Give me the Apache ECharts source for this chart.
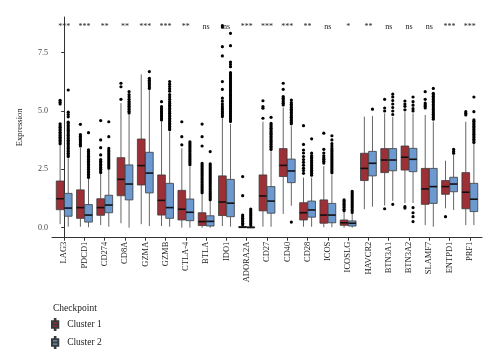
<!DOCTYPE html>
<html><head><meta charset="utf-8">
<script src="https://cdn.jsdelivr.net/npm/echarts@6/dist/echarts.min.js"></script>
<style>html,body{margin:0;padding:0;background:#fff}#c{width:500px;height:364px}</style>
</head><body><div id="c"></div>
<script>
const genes = ['LAG3','PDCD1','CD274','CD8A','GZMA','GZMB','CTLA-4','BTLA','IDO1','ADORA2A','CD27','CD40','CD28','ICOS','ICOSLG','HAVCR2','BTN3A1','BTN3A2','SLAMF7','ENTPD1','PRF1'];
const sig = ['***','***','**','**','***','***','**','ns','ns','***','***','***','**','ns','*','**','ns','ns','ns','***','***'];
const yTicks = [0, 2.5, 5, 7.5];
// [whisker low, Q1, median, Q3, whisker high]
const cluster1Stats = [
  [0.15,0.77,1.24,2.0,3.55],[0.04,0.40,0.86,1.62,3.42],[0.11,0.53,0.86,1.24,2.3],[0.19,1.37,2.07,3.0,5.34],
  [0.15,1.83,2.66,3.8,6.57],[0.07,0.54,1.17,2.26,4.55],[0.0,0.33,0.79,1.6,3.4],[0.0,0.09,0.26,0.64,1.45],
  [0.07,0.52,1.1,2.22,4.69],[0.0,0.0,0.02,0.05,0.1],[0.04,0.72,1.36,2.26,4.54],[0.59,2.19,2.67,3.39,5.15],
  [0.04,0.33,0.64,1.07,2.15],[0.02,0.19,0.54,1.19,2.64],[0.0,0.1,0.21,0.33,0.65],[0.79,2.02,2.54,3.19,4.76],
  [0.95,2.36,2.9,3.39,4.9],[1.05,2.47,3.02,3.5,4.95],[0.11,1.0,1.66,2.54,4.83],[0.83,1.43,1.76,2.02,2.87],
  [0.11,0.81,1.52,2.36,4.54]
];
const cluster2Stats = [
  [0.04,0.49,0.84,1.47,2.98],[0.02,0.24,0.54,0.99,2.1],[0.04,0.64,0.97,1.39,2.5],[0.0,1.19,1.87,2.69,4.85],
  [0.07,1.49,2.34,3.23,5.9],[0.04,0.40,0.86,1.9,4.11],[0.0,0.3,0.66,1.23,2.62],[0.0,0.07,0.27,0.51,1.15],
  [0.04,0.47,1.05,2.07,4.45],[0.0,0.0,0.01,0.03,0.07],[0.04,0.62,1.14,1.76,3.28],[0.94,1.93,2.43,2.94,4.35],
  [0.04,0.45,0.76,1.14,2.15],[0.02,0.21,0.54,1.04,2.25],[0.0,0.07,0.19,0.29,0.6],[0.9,2.22,2.76,3.27,4.79],
  [1.15,2.44,2.9,3.39,4.75],[1.06,2.4,2.93,3.4,4.9],[0.04,1.04,1.76,2.54,4.55],[0.76,1.54,1.87,2.16,3.12],
  [0.11,0.69,1.22,1.9,3.6]
];
const cluster1Outliers = [
  [3.6,3.67,3.74,3.81,3.88,3.95,4.02,4.09,4.16,4.23,4.3,4.37,4.45,5.3,5.38,5.46],
  [3.5,3.57,3.64,3.71,3.78,3.85,3.92,3.99,4.43],
  [2.36,2.43,2.5,2.57,2.64,2.71,2.78,2.85,2.92,3.12,3.43,3.76,4.59],
  [5.5,6.04,6.19],
  [],
  [4.62,4.69,4.76,4.83,4.9,4.97,5.04,5.11,5.19,5.4],
  [3.55,3.9,4.54],
  [1.5,1.57,1.64,1.71,1.78,1.85,1.92,1.99,2.06,2.13,2.2,2.27,2.34,2.41,2.48,2.55,2.62,2.69,2.76,3.5,3.9,4.44],
  [4.76,4.83,4.9,4.97,5.05,5.12,5.2,5.3,5.42,5.55,5.93,6.26,7.36,7.76,8.59,8.66],
  [0.12,0.19,0.26,0.33,0.4,0.47,0.54,1.37,2.19],
  [4.69,5.12,5.19,5.44],
  [5.26,5.33,5.4,5.47,5.55,5.62,5.93,6.19],
  [2.33,2.45,2.55,2.68,2.8,2.92,3.05,3.2,3.33,3.57,4.37],
  [2.77,2.85,2.93,3.0,3.08,3.2,3.36,4.05],
  [0.72,0.79,0.86,0.93,1.0,1.07,1.14,1.19],
  [],
  [0.81,5.0,5.13,5.5],
  [0.84,0.9,5.05,5.2,5.3,5.43],
  [5.13,5.2,5.27,5.34,5.5,5.83],
  [0.47],
  [4.83,4.9,4.97]
];
const cluster2Outliers = [
  [3.05,3.12,3.19,3.26,3.33,3.4,3.47,3.54,3.61,3.68,3.75,3.82,3.89,3.96,4.03,4.1,4.17,4.24,4.31,4.38,4.45,4.52,4.75,4.85,4.95,5.9],
  [2.15,2.22,2.29,2.36,2.43,2.5,2.57,2.64,2.71,2.78,2.85,2.92,2.99,3.06,3.13,3.2,3.27,3.34,4.07],
  [2.55,2.62,2.69,2.76,2.83,2.9,2.97,3.04,3.11,3.18,3.25,3.32,3.4,3.9,4.54],
  [4.92,4.99,5.06,5.13,5.2,5.27,5.34,5.41,5.5,5.6,5.7,5.83],
  [5.97,6.04,6.11,6.18,6.25,6.32,6.4,6.69],
  [4.2,4.27,4.34,4.41,4.48,4.55,4.62,4.69,4.76,4.83,4.9,4.97,5.04,5.11,5.18,5.25,5.32,5.4,5.5,5.6,5.7,5.85,5.95,6.05,6.15,6.26],
  [2.7,2.77,2.84,2.91,2.98,3.05,3.12,3.19,3.26,3.33,3.4,3.47,3.54,3.61,3.68],
  [1.2,1.27,1.34,1.41,1.48,1.55,1.62,1.69,1.76,1.83,1.9,1.97,2.04,2.11,2.18,2.25,2.32,2.39,2.46,2.53,2.6,2.67,2.74,3.26],
  [4.55,4.62,4.69,4.76,4.83,4.9,4.97,5.04,5.11,5.18,5.25,5.32,5.39,5.46,5.53,5.6,5.67,5.74,5.81,5.88,5.95,6.02,6.09,6.16,6.23,6.3,6.37,6.44,6.51,6.58,6.65,6.9,7.0,7.1,7.8,8.33],
  [0.1,0.17,0.24,0.31,0.38,0.45,0.52,0.59,0.66,0.73,0.8],
  [3.35,3.42,3.49,3.56,3.63,3.7,3.77,3.84,3.91,3.98,4.05,4.12,4.19,4.26,4.33,4.4,4.47,4.73],
  [0.24,4.45,4.52,4.59,4.66,4.73,4.8,4.87,4.94,5.01,5.08,5.15,5.22,5.29,5.36,5.47],
  [2.25,2.32,2.39,2.46,2.53,2.6,2.67,2.74,2.81,2.88,2.95,3.02,3.09,3.2,3.81],
  [2.35,2.42,2.49,2.56,2.63,2.7,2.77,2.84,2.91,2.98,3.05,3.12,3.19,3.26,3.33,3.4,3.5,3.6,3.76,3.94],
  [0.65,0.72,0.79,0.86,0.93,1.0,1.07,1.14,1.21,1.28,1.35,1.42,1.49,1.56],
  [5.08],
  [1.0,4.85,5.0,5.15,5.3,5.45,5.6,5.72],
  [0.26,0.47,0.64,0.86,5.0,5.1,5.25,5.4,5.6],
  [4.65,4.72,4.79,4.86,4.93,5.0,5.07,5.14,5.21,5.28,5.35,5.42,5.49,5.56,5.63,5.7,5.76,5.97],
  [3.19,3.27,3.36],
  [3.65,3.72,3.79,3.86,3.93,4.0,4.07,4.14,4.21,4.28,4.35,4.42,4.49,4.56,4.62,4.97,5.6]
];
const sigLevel = 8.62;

const FONT = 'Liberation Serif';
const RED = '#9d2f37', BLUE = '#6c99cf';
const OFF = 0.2, BOXW = 0.38;

function boxRender(off, color) {
  return function (params, api) {
    const i = api.value(0);
    const pMin = api.coord([i + off, api.value(1)]);
    const pQ1 = api.coord([i + off, api.value(2)]);
    const pMed = api.coord([i + off, api.value(3)]);
    const pQ3 = api.coord([i + off, api.value(4)]);
    const pMax = api.coord([i + off, api.value(5)]);
    const w = api.size([BOXW, 0])[0];
    const cx = pMin[0];
    return {type: 'group', children: [
      {type: 'line', shape: {x1: cx, y1: pMax[1], x2: cx, y2: pQ3[1]}, style: {stroke: '#666', lineWidth: 1}},
      {type: 'line', shape: {x1: cx, y1: pQ1[1], x2: cx, y2: pMin[1]}, style: {stroke: '#666', lineWidth: 1}},
      {type: 'rect', shape: {x: cx - w / 2, y: pQ3[1], width: w, height: Math.max(pQ1[1] - pQ3[1], 0.5)}, style: {fill: color, stroke: '#3a3a3a', lineWidth: 0.8}},
      {type: 'line', shape: {x1: cx - w / 2, y1: pMed[1], x2: cx + w / 2, y2: pMed[1]}, style: {stroke: '#111', lineWidth: 1.6}}
    ]};
  };
}
function outRender(off) {
  return function (params, api) {
    const p = api.coord([api.value(0) + off, api.value(1)]);
    return {type: 'circle', shape: {cx: p[0], cy: p[1], r: 1.6}, style: {fill: '#000'}};
  };
}
function flatten(list) {
  const out = [];
  list.forEach((arr, i) => arr.forEach(v => out.push([i, v])));
  return out;
}

const chart = echarts.init(document.getElementById('c'), null, {renderer: 'canvas'});
chart.setOption({
  backgroundColor: '#fff',
  animation: false,
  textStyle: {fontFamily: FONT},
  title: {text: 'Checkpoint', left: 53, top: 303, padding: 0,
    textStyle: {fontFamily: FONT, fontSize: 9.5, fontWeight: 'normal', color: '#222'}},
  legend: {
    orient: 'vertical', left: 51, top: 318, padding: 0, itemGap: 5, itemWidth: 8, itemHeight: 11,
    textStyle: {fontFamily: FONT, fontSize: 9.5, color: '#222', padding: [0, 0, 0, 3]},
    data: [
      {name: 'Cluster 1', icon: 'path://M1,3H9V7H1Z M1,7H9V11H1Z M4.6,0H5.4V3H4.6Z M4.6,11H5.4V14H4.6Z'},
      {name: 'Cluster 2', icon: 'path://M1,3H9V7H1Z M1,7H9V11H1Z M4.6,0H5.4V3H4.6Z M4.6,11H5.4V14H4.6Z'}
    ]
  },
  grid: {left: 52, right: 18, top: 17, bottom: 126.3, containLabel: false},
  xAxis: {
    type: 'value', min: -0.6, max: genes.length - 1 + 0.6,
    splitLine: {show: false},
    axisLine: {show: true, onZero: false, lineStyle: {color: '#333', width: 1}},
    axisTick: {show: true, length: 3, customValues: genes.map((g, i) => i), lineStyle: {color: '#333'}},
    axisLabel: {customValues: genes.map((g, i) => i), rotate: 90, margin: 4,
      formatter: v => genes[Math.round(v)], fontFamily: FONT, fontSize: 8.5, color: '#1a1a1a'}
  },
  yAxis: {
    type: 'value', min: -0.43, max: 9.03,
    name: 'Expression', nameLocation: 'middle', nameGap: 28,
    nameTextStyle: {fontFamily: FONT, fontSize: 8.5, color: '#1a1a1a'},
    splitLine: {show: false},
    axisLine: {show: true, lineStyle: {color: '#333', width: 1}},
    axisTick: {show: true, length: 3, customValues: yTicks, lineStyle: {color: '#333'}},
    axisLabel: {customValues: yTicks, margin: 4, formatter: v => v.toFixed(1),
      fontFamily: FONT, fontSize: 8, color: '#444'}
  },
  series: [
    {name: 'Cluster 1', type: 'custom', renderItem: boxRender(-OFF, RED),
      itemStyle: {color: RED, borderColor: '#3a3a3a', borderWidth: 0.8},
      encode: {x: 0, y: [1, 2, 3, 4, 5]},
      data: cluster1Stats.map((s, i) => [i].concat(s))},
    {name: 'Cluster 2', type: 'custom', renderItem: boxRender(OFF, BLUE),
      itemStyle: {color: BLUE, borderColor: '#3a3a3a', borderWidth: 0.8},
      encode: {x: 0, y: [1, 2, 3, 4, 5]},
      data: cluster2Stats.map((s, i) => [i].concat(s))},
    {name: 'out1', type: 'custom', renderItem: outRender(-OFF), encode: {x: 0, y: 1},
      data: flatten(cluster1Outliers)},
    {name: 'out2', type: 'custom', renderItem: outRender(OFF), encode: {x: 0, y: 1},
      data: flatten(cluster2Outliers)},
    {name: 'sig', type: 'custom', encode: {x: 0, y: 1},
      renderItem: function (params, api) {
        const p = api.coord([api.value(0), api.value(1)]);
        return {type: 'text', x: p[0], y: p[1], style: {text: sig[params.dataIndex], fill: '#222',
          font: '8px "' + FONT + '"', textAlign: 'center', textVerticalAlign: 'middle'}};
      },
      data: genes.map((g, i) => [i, sigLevel])}
  ]
});
</script></body></html>
